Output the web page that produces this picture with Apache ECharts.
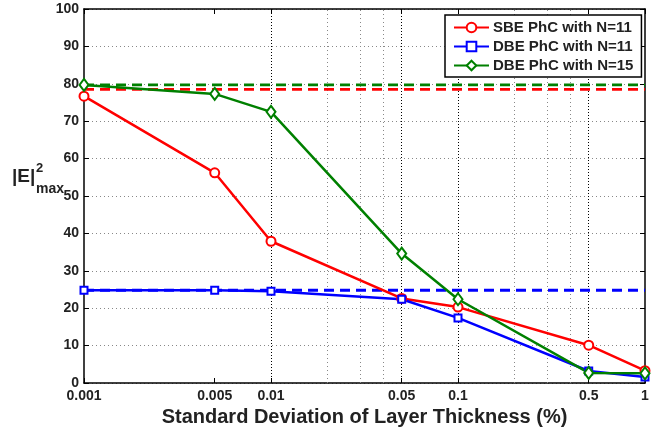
<!DOCTYPE html>
<html><head><meta charset="utf-8">
<script src="https://cdn.jsdelivr.net/npm/echarts@6/dist/echarts.min.js"></script>
<style>html,body{margin:0;padding:0;background:#fff}#c{width:661px;height:431px}</style>
</head><body><div id="c"></div>
<script>
const xValues = [0.001, 0.005, 0.01, 0.05, 0.1, 0.5, 1];
const sbeN11 = [76.7, 56.2, 37.9, 22.6, 20.3, 10.1, 3.3];
const dbeN11 = [24.8, 24.8, 24.5, 22.4, 17.4, 3.2, 1.6];
const dbeN15 = [79.7, 77.3, 72.5, 34.6, 22.4, 2.7, 2.6];
const refSbeN11 = 78.5;
const refDbeN11 = 24.8;
const refDbeN15 = 79.7;
const xTickLabels = [0.001, 0.005, 0.01, 0.05, 0.1, 0.5, 1];
const minorGridX = [0.002, 0.003, 0.004, 0.02, 0.03, 0.04, 0.2, 0.3, 0.4];
const majorGridX = [0.005, 0.01, 0.05, 0.1, 0.5];
const seriesNames = ['SBE PhC with N=11', 'DBE PhC with N=11', 'DBE PhC with N=15'];

const FONT = 'Liberation Sans, Arial, Helvetica, sans-serif';
const RED = '#ff0000', BLUE = '#0000ff', GREEN = '#008000';

const chart = echarts.init(document.getElementById('c'), null, {renderer: 'canvas'});

function pairs(ys) { return xValues.map((x, i) => [x, ys[i]]); }
function refLine(v) { return [[xValues[0], v], [xValues[xValues.length - 1], v]]; }

const gridMarks = minorGridX.map(v => ({xAxis: v, lineStyle: {color: '#888', type: [1, 3], width: 1}}))
  .concat(majorGridX.map(v => ({xAxis: v, lineStyle: {color: '#000', type: [1, 2], width: 1}})));

function mainSeries(name, data, color, symbol, size) {
  return {
    name, type: 'line', data: pairs(data), symbol, symbolSize: size, z: 5,
    lineStyle: {color, width: 2.5}, itemStyle: {color, borderColor: color, borderWidth: 2.2},
    showAllSymbol: true, animation: false
  };
}
function dashSeries(v, color) {
  return {
    type: 'line', data: refLine(v), symbol: 'none', z: 3, silent: true,
    lineStyle: {color, width: 2.8, type: [10, 6]}, animation: false
  };
}

const option = {
  animation: false,
  backgroundColor: '#fff',
  grid: {left: 84, right: 16, top: 9, bottom: 48, containLabel: false, outerBoundsMode: 'none'},
  legend: {
    data: seriesNames, left: 445, top: 15, orient: 'vertical',
    backgroundColor: '#fff', borderColor: '#000', borderWidth: 1.5, borderRadius: 0,
    padding: [5, 8, 4, 8], itemGap: 4, itemWidth: 35, itemHeight: 12,
    textStyle: {fontFamily: FONT, fontWeight: 'bold', fontSize: 15, color: '#222', padding: [0, 0, 0, -1]},
    z: 10
  },
  xAxis: [{
    type: 'log', logBase: 10, min: 0.001, max: 1, position: 'bottom',
    axisLine: {show: true, onZero: false, lineStyle: {color: '#000', width: 1.5}},
    axisTick: {show: true, inside: true, length: 5, customValues: xTickLabels, lineStyle: {color: '#000'}},
    axisLabel: {show: true, customValues: xTickLabels, fontFamily: FONT, fontWeight: 'bold', fontSize: 14, color: '#222', margin: 6,
      formatter: v => String(+v.toPrecision(3))},
    splitLine: {show: false}, minorSplitLine: {show: false},
    name: 'Standard Deviation of Layer Thickness (%)', nameLocation: 'middle', nameGap: 24,
    nameTextStyle: {fontFamily: FONT, fontWeight: 'bold', fontSize: 20, color: '#222'}
  }, {
    type: 'log', logBase: 10, min: 0.001, max: 1, position: 'top',
    axisLine: {show: true, onZero: false, lineStyle: {color: '#000', width: 1.5}},
    axisTick: {show: true, inside: true, length: 5, customValues: xTickLabels, lineStyle: {color: '#000'}},
    axisLabel: {show: false}, splitLine: {show: false}
  }],
  yAxis: [{
    type: 'value', min: 0, max: 100, interval: 10,
    axisLine: {show: true, onZero: false, lineStyle: {color: '#000', width: 1.5}},
    axisTick: {show: true, inside: true, length: 5, lineStyle: {color: '#000'}},
    axisLabel: {fontFamily: FONT, fontWeight: 'bold', fontSize: 14, color: '#222', margin: 5},
    splitLine: {show: true, lineStyle: {color: '#888', type: [1, 3], width: 1}}
  }, {
    type: 'value', min: 0, max: 100, interval: 10, position: 'right',
    axisLine: {show: true, onZero: false, lineStyle: {color: '#000', width: 1.5}},
    axisTick: {show: true, inside: true, length: 5, lineStyle: {color: '#000'}},
    axisLabel: {show: false}, splitLine: {show: false}
  }],
  series: [
    Object.assign(dashSeries(refSbeN11, RED), {
      markLine: {silent: true, symbol: ['none', 'none'], label: {show: false}, animation: false, z: 1, data: gridMarks}
    }),
    dashSeries(refDbeN11, BLUE),
    dashSeries(refDbeN15, GREEN),
    mainSeries(seriesNames[0], sbeN11, RED, 'emptyCircle', 9),
    mainSeries(seriesNames[1], dbeN11, BLUE, 'emptyRect', 7),
    mainSeries(seriesNames[2], dbeN15, GREEN, 'emptyDiamond', [9, 12])
  ],
  graphic: [
    {type: 'text', left: 12, top: 167, z: 20, style: {text: '|E|', font: 'bold 19px ' + FONT, fill: '#222'}},
    {type: 'text', left: 36, top: 162, z: 20, style: {text: '2', font: 'bold 13px ' + FONT, fill: '#222'}},
    {type: 'text', left: 36, top: 182, z: 20, style: {text: 'max', font: 'bold 14px ' + FONT, fill: '#222'}}
  ]
};
chart.setOption(option);
</script></body></html>
